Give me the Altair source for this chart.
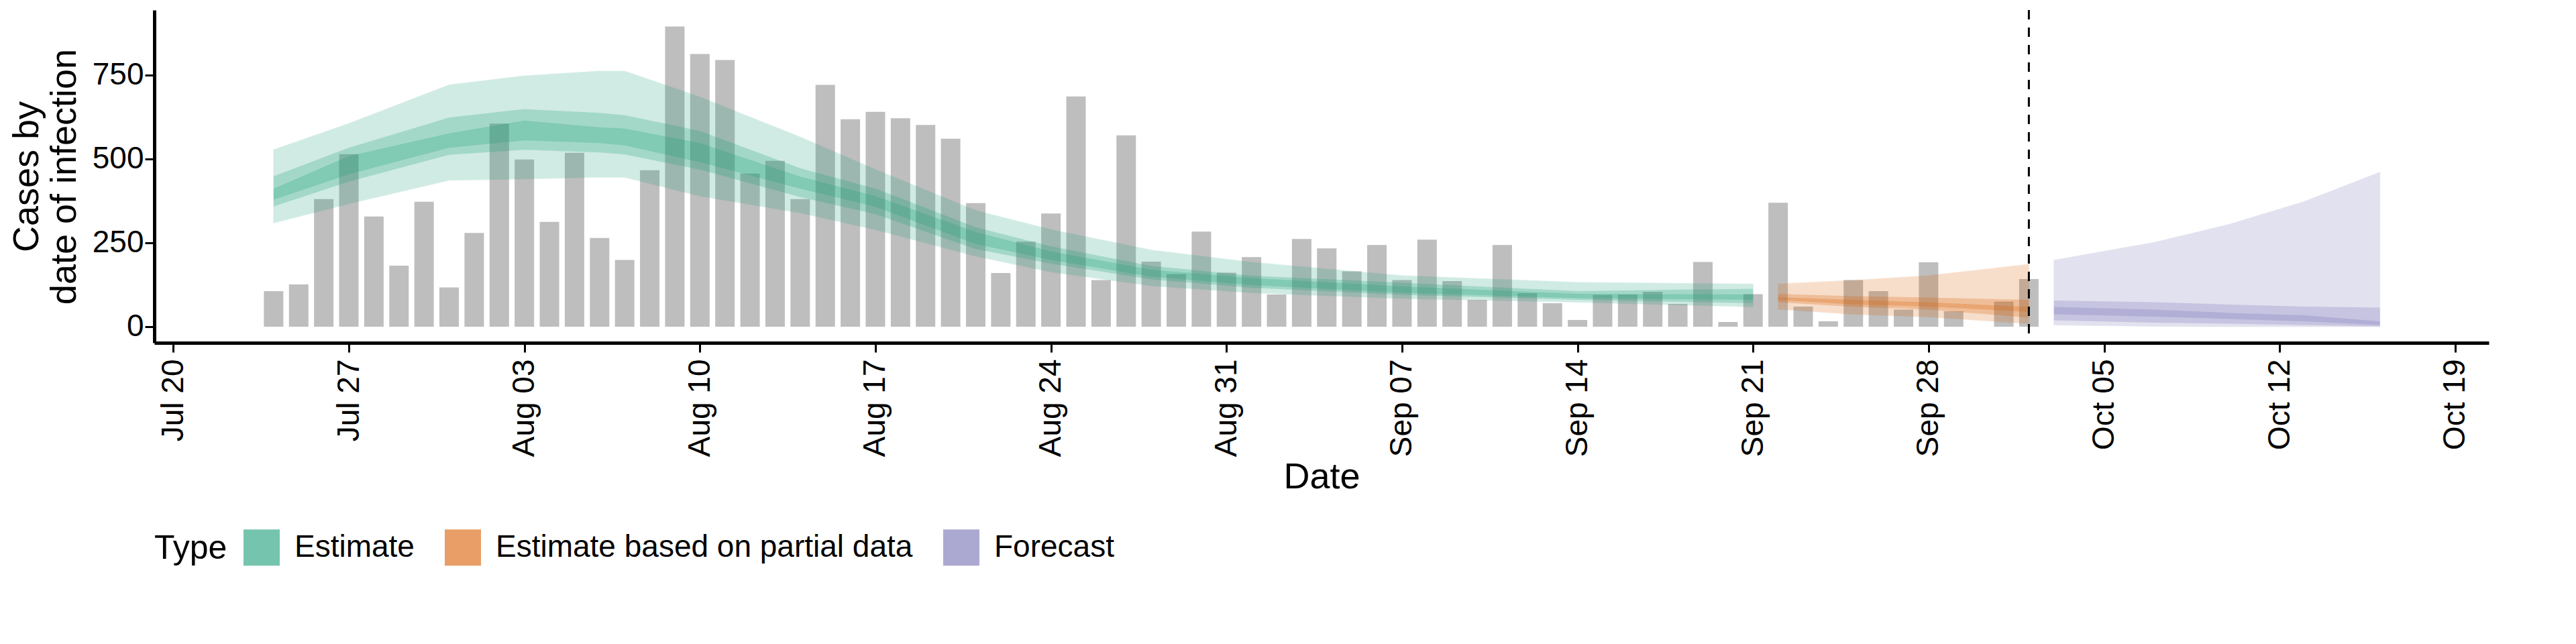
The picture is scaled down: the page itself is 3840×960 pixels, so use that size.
import pandas as pd
import altair as alt

# Observed cases by date (reported)
bar_start = "2020-07-24"
cases = [106, 126, 380, 514, 328, 182, 372, 117, 279, 605, 498, 312, 518, 264, 199, 466,
         894, 812, 794, 456, 494, 380, 720, 618, 640, 621, 601, 560, 368, 160, 253, 337,
         686, 139, 570, 194, 157, 283, 161, 207, 96, 261, 233, 165, 243, 139, 259, 136,
         80, 243, 100, 70, 20, 95, 96, 104, 68, 193, 14, 97, 369, 60, 16, 139, 106, 51,
         192, 46, 0, 75, 142]

# Estimate bands at key dates
est_dates = ["2020-07-24", "2020-07-27", "2020-07-31", "2020-08-03", "2020-08-06", "2020-08-07",
             "2020-08-10", "2020-08-14", "2020-08-17", "2020-08-21", "2020-08-24", "2020-08-28",
             "2020-09-01", "2020-09-07", "2020-09-14", "2020-09-21"]
est_lo90 = [309, 366, 436, 440, 445, 445, 389, 339, 289, 210, 163, 122, 101, 84, 73, 59]
est_hi90 = [527, 605, 720, 747, 761, 761, 684, 565, 468, 346, 289, 228, 192, 152, 132, 127]
est_lo50 = [358, 432, 512, 527, 519, 513, 468, 386, 335, 231, 188, 141, 116, 95, 80, 70]
est_hi50 = [448, 533, 623, 648, 637, 630, 583, 472, 411, 296, 239, 181, 152, 131, 106, 113]
est_lo20 = [378, 454, 533, 555, 547, 540, 490, 411, 357, 246, 199, 149, 124, 101, 85, 80]
est_hi20 = [411, 508, 576, 614, 594, 590, 547, 447, 389, 282, 224, 170, 145, 120, 98, 96]

part_dates = ["2020-09-22", "2020-09-25", "2020-09-28", "2020-10-02"]
part_lo90 = [52, 37, 29, 9]
part_hi90 = [127, 138, 152, 186]
part_lo50 = [73, 59, 51, 27]
part_hi50 = [98, 91, 87, 80]
part_lo20 = [80, 66, 60, 44]
part_hi20 = [88, 80, 73, 59]

fc_dates = ["2020-10-03", "2020-10-07", "2020-10-10", "2020-10-13", "2020-10-16"]
fc_lo90 = [5, 1, 0, 0, 0]
fc_hi90 = [198, 251, 305, 373, 460]
fc_lo50 = [19, 12, 9, 5, 1]
fc_hi50 = [78, 73, 66, 60, 57]
fc_lo20 = [37, 30, 23, 16, 5]
fc_hi20 = [59, 51, 41, 34, 16]

types = ["Estimate", "Estimate based on partial data", "Forecast"]
colors = ["#1b9e77", "#d95f02", "#7570b3"]

bars = pd.DataFrame({
    "date": pd.date_range(bar_start, periods=len(cases), freq="D"),
    "cases": cases,
})

rows = []
for t, d, l9, h9, l5, h5, l2, h2 in [
    (types[0], est_dates, est_lo90, est_hi90, est_lo50, est_hi50, est_lo20, est_hi20),
    (types[1], part_dates, part_lo90, part_hi90, part_lo50, part_hi50, part_lo20, part_hi20),
    (types[2], fc_dates, fc_lo90, fc_hi90, fc_lo50, fc_hi50, fc_lo20, fc_hi20),
]:
    for i in range(len(d)):
        rows.append(dict(type=t, date=d[i], lo90=l9[i], hi90=h9[i], lo50=l5[i], hi50=h5[i],
                         lo20=l2[i], hi20=h2[i]))
bands = pd.DataFrame(rows)
bands["date"] = pd.to_datetime(bands["date"])

week_ticks = [alt.DateTime(year=2020, month=m, date=d) for m, d in
              [(7, 20), (7, 27), (8, 3), (8, 10), (8, 17), (8, 24), (8, 31), (9, 7),
               (9, 14), (9, 21), (9, 28), (10, 5), (10, 12), (10, 19)]]

xscale = alt.Scale(domain=[alt.DateTime(year=2020, month=7, date=19, hours=9),
                           alt.DateTime(year=2020, month=10, date=20, hours=5)])
xaxis = alt.Axis(values=week_ticks, format="%b %d", labelAngle=-90, title="Date",
                 grid=False, labelFontSize=46, titleFontSize=54, domainWidth=5,
                 tickWidth=3, tickSize=14, domainColor="black", tickColor="black",
                 labelColor="black", titleFontWeight="normal", labelPadding=10)
yscale = alt.Scale(domain=[-48, 943], nice=False)
yaxis = alt.Axis(values=[0, 250, 500, 750], title=["Cases by", "date of infection"],
                 grid=False, labelFontSize=46, titleFontSize=54, domainWidth=5,
                 tickWidth=3, tickSize=14, domainColor="black", tickColor="black",
                 labelColor="black", titleFontWeight="normal", titlePadding=14)

bar_layer = alt.Chart(bars).mark_bar(color="#bebebe", width=29).encode(
    x=alt.X("date:T", scale=xscale, axis=xaxis),
    y=alt.Y("cases:Q", scale=yscale, axis=yaxis),
)

cscale = alt.Scale(domain=types, range=colors)
base = alt.Chart(bands).encode(x="date:T")
outer = base.mark_area(opacity=0.2, strokeWidth=1.2, strokeOpacity=0.6).encode(
    y="lo90:Q", y2="hi90:Q",
    color=alt.Color("type:N", scale=cscale, legend=alt.Legend(
        title="Type", orient="bottom", direction="horizontal", titleOrient="left",
        labelFontSize=46, titleFontSize=50, titleFontWeight="normal", symbolType="square",
        symbolSize=2600, symbolOpacity=0.6, symbolStrokeWidth=3, columnPadding=40,
        labelLimit=1200, labelOffset=22, titlePadding=24,
        labelColor="black", titleColor="black", offset=50)),
    stroke=alt.Stroke("type:N", scale=cscale, legend=None),
)
mid = base.mark_area(opacity=0.25).encode(
    y="lo50:Q", y2="hi50:Q", color=alt.Color("type:N", scale=cscale, legend=None))
inner = base.mark_area(opacity=0.25).encode(
    y="lo20:Q", y2="hi20:Q", color=alt.Color("type:N", scale=cscale, legend=None))

rule = alt.Chart(pd.DataFrame({"date": [pd.Timestamp("2020-10-02")]})).mark_rule(
    color="black", strokeDash=[14, 12], strokeWidth=3).encode(x="date:T")

chart = alt.layer(bar_layer, outer, mid, inner, rule).properties(
    width=3480, height=496
).configure(font="Liberation Sans").configure_view(stroke=None, strokeWidth=0)

chart.save("out.html", embed_options={"renderer": "svg", "actions": False})
